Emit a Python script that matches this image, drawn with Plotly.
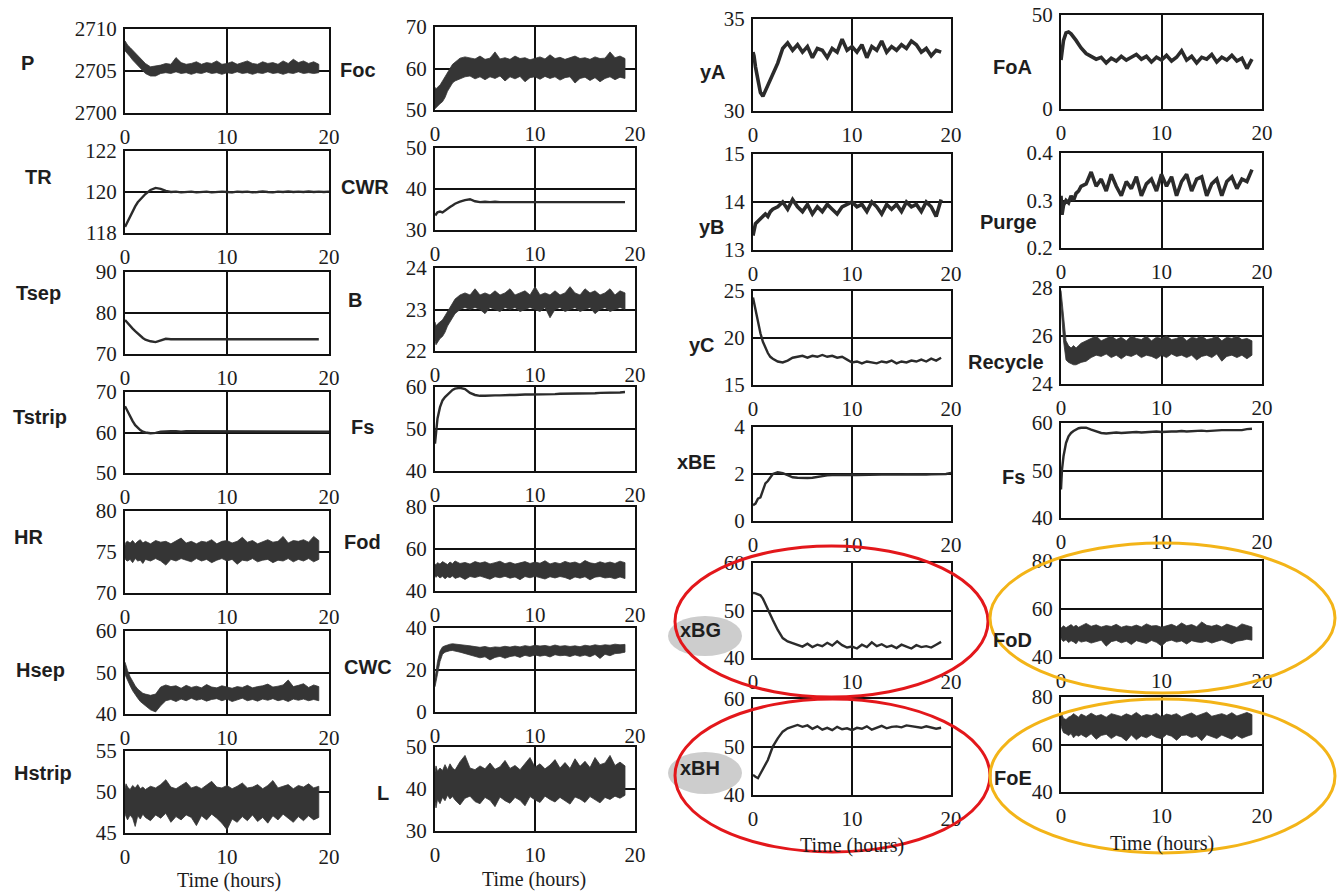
import plotly.graph_objects as go

W, H = 1337, 892

# ---------------- time grids (hours) ----------------
T = [0, 0.1, 0.25, 0.5, 0.75, 1.0, 1.25, 1.5, 1.75, 2.0,
     2.5, 3.0, 3.5, 4.0, 4.5, 5.0, 5.5, 6.0, 6.5, 7.0,
     7.5, 8.0, 8.5, 9.0, 9.5, 10.0, 10.5, 11.0, 11.5, 12.0,
     12.5, 13.0, 13.5, 14.0, 14.5, 15.0, 15.5, 16.0, 16.5, 17.0,
     17.5, 18.0, 18.5, 19.0]
T_FULL = [0, 0.1, 0.25, 0.5, 0.75, 1.0, 1.25, 1.5, 1.75, 2.0,
          2.5, 3.0, 3.5, 4.0, 4.5, 5.0, 5.5, 6.0, 6.5, 7.0,
          7.5, 8.0, 8.5, 9.0, 9.5, 10.0, 10.5, 11.0, 11.5, 12.0,
          12.5, 13.0, 13.5, 14.0, 14.5, 15.0, 15.5, 16.0, 16.5, 17.0,
          17.5, 18.0, 18.5, 19.0, 19.5, 20.0]

# ---------------- column 1 ----------------
P_HI = [2708.6, 2708.4, 2708.1, 2707.8, 2707.5, 2707.1, 2706.8, 2706.5, 2706.2, 2705.9,
        2705.5, 2705.6, 2705.7, 2705.9, 2705.8, 2706.6, 2706.0, 2705.8, 2705.9, 2706.1,
        2705.8, 2706.0, 2705.9, 2706.2, 2705.8, 2705.9, 2706.1, 2705.8, 2706.0, 2706.2,
        2705.9, 2705.8, 2706.1, 2705.9, 2706.0, 2705.8, 2706.2, 2705.9, 2706.4, 2706.0,
        2706.2, 2705.9, 2706.1, 2705.8]
P_LO = [2707.4, 2707.2, 2707.0, 2706.7, 2706.3, 2706.0, 2705.6, 2705.3, 2705.0, 2704.7,
        2704.4, 2704.4, 2704.7, 2704.8, 2704.7, 2704.9, 2704.7, 2704.8, 2704.6, 2704.8,
        2704.7, 2704.9, 2704.7, 2704.8, 2704.6, 2704.8, 2704.7, 2704.9, 2704.7, 2704.8,
        2704.6, 2704.8, 2704.7, 2704.9, 2704.7, 2704.8, 2704.6, 2704.8, 2704.7, 2704.9,
        2704.7, 2704.8, 2704.7, 2704.8]
TR = [118.3, 118.4, 118.6, 118.8, 119.05, 119.3, 119.5, 119.65, 119.8, 119.9,
      120.1, 120.2, 120.15, 120.05, 120.0, 120.02, 119.98, 120.0, 120.02, 119.98,
      120.0, 120.02, 119.98, 120.0, 120.02, 120.0, 119.98, 120.02, 120.0, 120.02,
      119.98, 120.0, 120.03, 120.0, 119.98, 120.02, 120.0, 120.03, 120.0, 120.02,
      120.0, 120.03, 120.0, 120.02, 120.0, 120.02]
TSEP = [78.3, 78.0, 77.5, 76.8, 76.2, 75.6, 75.0, 74.4, 73.9, 73.5,
        73.1, 72.9, 73.3, 73.7, 73.6, 73.6, 73.5, 73.6, 73.6, 73.5,
        73.6, 73.6, 73.5, 73.6, 73.6, 73.5, 73.6, 73.6, 73.5, 73.6,
        73.6, 73.5, 73.6, 73.6, 73.5, 73.6, 73.6, 73.5, 73.6, 73.6,
        73.5, 73.6, 73.5, 73.6]
TSTRIP = [66.5, 66.0, 65.0, 63.9, 62.8, 61.8, 61.1, 60.6, 60.2, 60.0,
          59.8, 59.9, 60.2, 60.3, 60.3, 60.3, 60.2, 60.3, 60.3, 60.3,
          60.2, 60.3, 60.3, 60.3, 60.2, 60.3, 60.3, 60.3, 60.2, 60.3,
          60.3, 60.3, 60.2, 60.3, 60.3, 60.3, 60.2, 60.3, 60.3, 60.3,
          60.3, 60.2, 60.3, 60.3, 60.3, 60.2]
HR_HI = [75.8, 76.2, 76.3, 76.1, 76.4, 76.0, 76.3, 76.5, 76.1, 76.3,
         76.0, 76.4, 76.2, 76.3, 76.0, 76.3, 76.7, 76.1, 76.3, 76.0,
         76.3, 76.2, 76.5, 76.0, 76.3, 76.4, 76.1, 76.3, 76.8, 76.2,
         76.4, 76.0, 76.3, 76.5, 76.2, 76.3, 76.9, 76.1, 76.4, 76.3,
         76.5, 76.2, 76.9, 76.4]
HR_LO = [74.2, 74.0, 73.9, 74.1, 73.7, 74.2, 73.9, 74.0, 73.6, 74.1,
         73.9, 74.2, 73.9, 73.4, 74.1, 73.9, 74.2, 74.0, 73.8, 74.2,
         73.9, 74.1, 73.7, 74.0, 74.2, 73.9, 74.1, 73.5, 74.0, 73.9,
         74.2, 73.8, 74.0, 74.1, 73.7, 74.0, 73.9, 74.2, 73.8, 74.1,
         73.9, 74.2, 73.8, 74.1]
HSEP_HI = [52.5, 51.5, 50.5, 49.0, 47.8, 46.8, 46.0, 45.5, 45.0, 44.8,
           44.5, 44.8, 46.5, 47.0, 46.6, 46.8, 46.2, 46.9, 46.4, 46.7,
           46.3, 47.1, 46.5, 46.3, 46.8, 46.5, 46.2, 46.6, 46.4, 46.9,
           46.3, 46.6, 46.8, 47.2, 46.5, 46.7, 47.0, 48.2, 46.6, 46.9,
           47.3, 46.4, 47.0, 46.6]
HSEP_LO = [49.5, 48.8, 48.0, 46.8, 45.6, 44.6, 43.8, 43.0, 42.5, 42.0,
           41.0, 40.5, 42.0, 43.2, 43.5, 43.0, 43.6, 43.2, 43.8, 43.3,
           43.6, 43.1, 43.5, 43.7, 43.2, 43.6, 43.0, 43.4, 43.8, 43.2,
           43.5, 43.1, 43.6, 43.3, 43.7, 43.2, 43.5, 43.0, 43.6, 43.3,
           43.6, 43.2, 43.5, 43.2]
HSTRIP_HI = [50.4, 51.0, 50.6, 50.3, 50.8, 50.5, 50.9, 50.4, 50.6, 50.3,
             50.7, 50.5, 50.9, 51.5, 50.6, 50.4, 50.8, 51.2, 50.5, 50.7,
             50.4, 50.9, 51.3, 50.6, 50.5, 50.8, 50.4, 50.7, 51.1, 50.5,
             50.6, 50.9, 50.4, 50.8, 51.4, 50.5, 50.7, 50.9, 50.4, 50.8,
             50.6, 51.0, 50.5, 50.7]
HSTRIP_LO = [47.4, 47.0, 46.6, 47.2, 46.8, 45.8, 47.1, 46.7, 47.3, 46.9,
             46.5, 47.2, 46.8, 47.4, 46.3, 47.0, 46.6, 47.2, 46.9, 45.9,
             47.1, 46.6, 47.3, 46.8, 46.2, 45.4, 46.7, 46.3, 47.0, 46.5,
             47.2, 46.4, 46.9, 46.2, 47.1, 46.6, 47.3, 46.8, 46.3, 47.0,
             46.5, 47.1, 46.6, 46.9]

# ---------------- column 2 ----------------
FOC_HI = [55.5, 55.0, 55.5, 56.0, 57.0, 58.0, 59.0, 60.0, 61.0, 61.5,
          62.5, 62.8, 62.5, 62.3, 63.0, 62.2, 62.5, 64.0, 62.3, 62.6,
          62.2, 63.0, 62.4, 62.6, 62.1, 62.5, 62.8, 62.3, 63.3, 62.4,
          62.7, 62.2, 62.6, 63.0, 62.4, 62.6, 62.2, 62.8, 62.4, 62.5,
          64.0, 62.6, 63.0, 62.4]
FOC_LO = [50.3, 50.5, 51.0, 51.5, 52.0, 53.0, 54.5, 55.5, 56.5, 57.0,
          57.5, 58.0, 58.2, 57.5, 58.0, 57.3, 58.0, 57.6, 58.2, 57.0,
          58.0, 57.5, 58.1, 56.8, 57.8, 58.0, 57.4, 58.1, 57.6, 58.0,
          57.2, 57.8, 58.0, 56.5, 57.6, 57.9, 57.1, 57.8, 56.8, 57.6,
          58.0, 57.3, 57.9, 57.6]
CWR = [34.0, 33.8, 34.3, 34.5, 34.3, 34.8, 35.2, 35.6, 36.0, 36.4,
       36.9, 37.3, 37.5, 37.0, 36.8, 36.9, 36.8, 36.9, 36.8, 36.8,
       36.9, 36.8, 36.8, 36.9, 36.8, 36.8, 36.9, 36.8, 36.8, 36.9,
       36.8, 36.8, 36.9, 36.8, 36.8, 36.9, 36.8, 36.8, 36.9, 36.8,
       36.8, 36.9, 36.8, 36.8]
B_HI = [22.7, 22.6, 22.65, 22.7, 22.75, 22.85, 22.95, 23.05, 23.15, 23.25,
        23.35, 23.4, 23.35, 23.5, 23.35, 23.4, 23.35, 23.45, 23.35, 23.4,
        23.5, 23.35, 23.4, 23.45, 23.35, 23.55, 23.35, 23.4, 23.35, 23.45,
        23.35, 23.4, 23.55, 23.4, 23.35, 23.5, 23.4, 23.45, 23.35, 23.4,
        23.5, 23.35, 23.45, 23.4]
B_LO = [22.25, 22.15, 22.2, 22.3, 22.35, 22.45, 22.6, 22.7, 22.8, 22.9,
        23.0, 23.05, 23.0, 23.05, 23.0, 22.9, 23.05, 23.0, 22.95, 23.05,
        23.0, 23.05, 22.95, 23.0, 23.05, 23.0, 22.95, 23.05, 22.8, 23.0,
        23.05, 22.95, 23.0, 23.05, 22.95, 23.0, 23.05, 22.9, 23.0, 23.05,
        22.95, 23.0, 23.05, 23.0]
FS_A = [46.5, 49.7, 52.5, 55.2, 56.8, 57.6, 58.2, 58.8, 59.3, 59.6,
        59.8, 59.5, 58.6, 58.1, 57.9, 57.9, 58.0, 58.0, 58.0, 58.1,
        58.1, 58.1, 58.2, 58.2, 58.2, 58.2, 58.3, 58.3, 58.3, 58.3,
        58.4, 58.4, 58.4, 58.4, 58.5, 58.5, 58.5, 58.5, 58.6, 58.6,
        58.6, 58.6, 58.7, 58.8]
FOD_HI = [53.0, 52.5, 53.5, 52.8, 54.0, 53.2, 52.6, 53.8, 53.0, 54.3,
          53.1, 53.6, 52.8, 54.0, 53.3, 53.9, 52.9, 53.5, 54.2, 53.0,
          53.7, 52.8, 53.4, 54.0, 53.1, 53.8, 53.2, 54.4, 52.9, 53.6,
          53.0, 54.1, 53.3, 53.8, 52.9, 54.5, 53.4, 53.0, 53.9, 53.2,
          53.8, 53.1, 54.2, 53.5]
FOD_LO = [47.0, 46.5, 47.3, 46.2, 47.0, 45.8, 46.8, 46.3, 47.2, 46.0,
          46.8, 45.5, 46.9, 46.4, 47.1, 46.2, 45.6, 46.8, 46.3, 47.0,
          46.1, 46.7, 45.4, 46.9, 46.3, 47.0, 46.5, 45.7, 46.8, 46.2,
          46.9, 46.4, 45.5, 46.7, 46.1, 46.8, 45.3, 46.6, 46.9, 46.2,
          46.5, 45.8, 46.7, 45.9]
CWC_HI = [16.0, 19.0, 24.0, 29.0, 31.0, 31.5, 32.0, 32.3, 32.5, 32.3,
          32.0, 31.8, 31.5, 31.0, 30.8, 31.2, 30.6, 31.0, 30.8, 31.3,
          30.9, 31.4, 31.0, 31.6, 31.2, 31.8, 31.4, 31.7, 31.2, 31.9,
          31.3, 31.6, 31.2, 31.5, 31.1, 31.8, 31.4, 32.0, 31.6, 32.0,
          31.8, 32.3, 32.0, 32.2]
CWC_LO = [12.0, 14.0, 18.0, 24.0, 27.5, 28.5, 29.0, 29.2, 29.3, 29.0,
          28.5, 28.0, 27.0, 26.5, 25.8, 26.3, 24.8, 26.0, 26.5, 25.6,
          26.4, 26.8, 26.0, 27.0, 26.4, 27.2, 26.6, 27.0, 26.2, 27.3,
          26.8, 27.0, 26.4, 27.2, 26.5, 27.1, 26.3, 27.4, 25.5, 27.5,
          26.8, 27.8, 28.0, 28.5]
L_HI = [44.0, 45.5, 44.2, 45.0, 44.4, 45.8, 44.6, 46.0, 45.0, 44.5,
        46.5, 48.0, 45.0, 44.6, 45.5, 44.8, 46.2, 44.7, 45.3, 46.8,
        44.9, 45.6, 44.6, 46.0, 47.5, 45.2, 46.0, 44.8, 45.7, 47.0,
        45.0, 46.3, 44.9, 47.2, 45.4, 46.6, 45.1, 47.5, 45.8, 46.2,
        48.0, 45.6, 46.4, 45.5]
L_LO = [37.0, 35.5, 37.5, 36.5, 38.0, 37.2, 38.5, 37.6, 38.2, 37.4,
        36.2, 37.8, 38.3, 37.0, 36.5, 38.0, 37.3, 35.8, 38.1, 37.2,
        36.6, 38.0, 37.3, 36.0, 38.2, 37.4, 36.8, 38.3, 37.5, 36.9,
        38.0, 37.2, 36.4, 38.1, 37.6, 36.8, 38.2, 37.4, 36.7, 38.0,
        37.5, 38.3, 37.8, 38.5]

# ---------------- column 3 ----------------
YA = [33.2, 33.0, 32.4, 31.6, 31.0, 30.8, 31.1, 31.3, 31.6, 31.9,
      32.6, 33.4, 33.7, 33.3, 33.6, 33.2, 33.5, 32.9, 33.4, 33.3,
      32.9, 33.4, 33.2, 33.9, 33.3, 33.5, 33.2, 33.6, 32.9, 33.5,
      33.3, 33.8, 33.2, 33.5, 33.3, 33.6, 33.4, 33.8, 33.6, 33.2,
      33.4, 33.0, 33.3, 33.2]
YB = [13.3, 13.4, 13.55, 13.6, 13.65, 13.7, 13.75, 13.7, 13.8, 13.85,
      13.9, 14.0, 13.85, 14.05, 13.9, 13.8, 13.95, 13.75, 13.9, 13.8,
      13.95, 13.85, 13.75, 13.9, 13.95, 14.0, 13.9, 13.95, 13.8, 14.0,
      13.9, 13.75, 13.95, 13.85, 13.95, 13.8, 14.0, 13.9, 13.95, 13.8,
      14.0, 13.9, 13.7, 14.05]
YC = [24.3, 23.8, 22.9, 21.7, 20.5, 19.6, 19.0, 18.4, 18.0, 17.8,
      17.5, 17.4, 17.6, 17.9, 18.0, 18.1, 17.9, 18.1, 18.0, 18.2,
      18.0, 18.1, 17.9, 18.0, 17.7, 17.4, 17.5, 17.3, 17.5, 17.4,
      17.3, 17.5, 17.4, 17.6, 17.3, 17.5, 17.4, 17.6, 17.5, 17.7,
      17.5, 17.8, 17.6, 17.9]
XBE = [0.67, 0.70, 0.74, 0.95, 1.0, 1.3, 1.6, 1.7, 1.85, 2.0,
       2.08, 2.04, 1.95, 1.86, 1.84, 1.82, 1.83, 1.84, 1.88, 1.92,
       1.94, 1.95, 1.96, 1.95, 1.96, 1.97, 1.96, 1.97, 1.97, 1.98,
       1.97, 1.98, 1.98, 1.97, 1.98, 1.98, 1.99, 1.98, 1.99, 1.99,
       1.98, 1.99, 2.0, 1.99, 2.0, 2.05]
XBG = [53.6, 53.7, 53.6, 53.4, 53.2, 52.5, 51.3, 50.1, 49.0, 48.0,
       45.9, 44.2, 43.5, 43.1, 42.8, 42.4, 43.0, 42.3, 42.8, 42.5,
       43.2, 42.6, 43.5, 42.7, 42.2, 42.4, 42.0, 42.8, 42.3, 43.3,
       42.5, 42.9, 42.3, 42.6, 42.1, 42.8, 42.4, 42.0, 42.7, 42.3,
       42.5, 42.2, 42.8, 43.4]
XBH = [44.2, 44.0, 43.8, 43.5, 44.5, 45.2, 46.2, 47.3, 48.7, 50.1,
       51.8, 53.2, 53.9, 54.3, 54.6, 54.2, 54.5, 53.8, 54.3, 53.6,
       54.0, 53.5, 54.2, 53.7, 53.9, 53.5, 54.0, 53.8, 54.3, 53.6,
       54.0, 54.4, 53.9, 54.2, 54.3, 54.1, 54.5, 54.3, 54.2, 54.0,
       54.3, 54.1, 53.8, 54.0]

# ---------------- column 4 ----------------
FOA = [26.0, 31.0, 36.5, 40.5, 41.0, 40.0, 38.5, 36.5, 34.5, 32.5,
       29.5, 28.0, 26.5, 27.5, 24.5, 27.0, 25.5, 28.0, 26.0, 27.5,
       29.0, 26.5, 28.0, 25.0, 27.5, 26.0, 28.5, 25.5, 27.5, 31.0,
       26.0, 28.0, 24.5, 27.5, 26.5, 29.0, 25.0, 27.5, 26.0, 28.5,
       25.5, 27.0, 21.5, 26.5]
PURGE = [0.31, 0.27, 0.29, 0.30, 0.295, 0.31, 0.30, 0.315, 0.32, 0.33,
         0.335, 0.36, 0.33, 0.345, 0.32, 0.355, 0.33, 0.31, 0.34, 0.325,
         0.35, 0.31, 0.335, 0.345, 0.32, 0.355, 0.33, 0.35, 0.31, 0.34,
         0.355, 0.32, 0.345, 0.35, 0.31, 0.335, 0.345, 0.31, 0.34, 0.35,
         0.325, 0.345, 0.34, 0.365]
REC_HI = [27.9, 27.5, 26.6, 25.8, 25.6, 25.5, 25.6, 25.5, 25.6, 25.7,
          25.8, 25.9, 26.0, 25.8, 25.9, 26.0, 25.85, 25.95, 25.8, 26.0,
          25.9, 25.85, 26.0, 25.8, 25.95, 25.9, 26.0, 25.85, 25.9, 26.0,
          25.8, 25.95, 25.9, 26.0, 25.85, 25.9, 26.0, 25.8, 25.95, 25.9,
          26.0, 25.85, 25.9, 25.8]
REC_LO = [27.3, 26.7, 25.8, 25.0, 24.9, 24.85, 24.8, 24.8, 24.85, 24.9,
          24.95, 25.1, 25.2, 25.15, 25.25, 25.1, 25.2, 25.05, 25.2, 25.15,
          25.25, 25.1, 25.2, 25.15, 25.05, 25.2, 25.1, 25.25, 25.15, 25.2,
          25.1, 25.2, 25.0, 25.15, 25.2, 25.1, 25.25, 24.95, 25.15, 25.2,
          25.1, 25.2, 25.05, 25.2]
FS_B = [46.0, 50.2, 53.0, 55.8, 57.2, 57.9, 58.3, 58.6, 58.9, 59.0,
        59.0, 58.6, 58.2, 57.9, 57.8, 57.9, 58.0, 57.9, 58.0, 58.0,
        58.1, 58.0, 58.1, 58.1, 58.2, 58.1, 58.2, 58.2, 58.2, 58.3,
        58.2, 58.3, 58.3, 58.4, 58.3, 58.4, 58.4, 58.5, 58.5, 58.5,
        58.6, 58.5, 58.7, 58.8]
FOD2_HI = [52.0, 52.5, 53.0, 52.2, 52.8, 53.5, 52.6, 53.2, 52.4, 53.0,
           54.0, 52.8, 53.4, 52.5, 53.1, 52.7, 53.6, 52.4, 53.0, 52.6,
           53.3, 52.5, 53.8, 52.9, 53.1, 52.4, 53.0, 53.6, 52.7, 54.2,
           53.0, 53.5, 52.6, 54.6, 53.2, 52.8, 53.4, 52.5, 53.7, 53.0,
           52.3, 53.8, 53.2, 52.5]
FOD2_LO = [48.0, 47.0, 46.5, 47.2, 46.0, 46.8, 46.3, 45.5, 46.9, 46.2,
           46.7, 45.8, 46.5, 47.0, 44.5, 46.4, 46.9, 45.9, 46.6, 45.2,
           46.8, 46.3, 45.6, 46.9, 46.1, 44.6, 46.5, 47.0, 46.2, 46.7,
           45.4, 46.8, 46.3, 46.0, 46.7, 45.8, 46.5, 47.1, 46.2, 45.5,
           46.6, 46.9, 47.4, 47.0]
FOE_HI = [73.0, 72.5, 71.0, 70.5, 71.5, 72.0, 73.0, 72.2, 71.5, 72.8,
          71.8, 73.2, 72.0, 72.6, 71.5, 73.0, 72.3, 71.8, 72.9, 72.1,
          73.5, 71.9, 72.6, 72.2, 73.1, 71.7, 72.8, 72.3, 73.0, 71.6,
          72.5, 73.3, 72.0, 72.7, 73.6, 71.9, 72.4, 73.0, 72.2, 73.4,
          72.0, 72.8, 73.5, 72.6]
FOE_LO = [68.0, 66.5, 65.0, 64.5, 63.8, 64.6, 62.8, 64.0, 63.5, 64.2,
          63.0, 64.5, 62.2, 63.8, 64.3, 62.5, 63.9, 63.2, 61.5, 64.0,
          62.0, 63.6, 62.8, 64.1, 63.0, 62.4, 64.2, 63.5, 61.8, 63.8,
          64.0, 62.9, 63.6, 61.6, 64.1, 63.3, 62.5, 64.0, 63.1, 62.2,
          63.8, 62.6, 63.5, 64.2]

# ---------------- panel table: (label, kind, t, series, y ticks, tick text) ----------------
PANELS = [
    ("P", "band", T, (P_HI, P_LO), [2700, 2705, 2710], ["2700", "2705", "2710"]),
    ("TR", "line", T_FULL, (TR,), [118, 120, 122], ["118", "120", "122"]),
    ("Tsep", "line", T, (TSEP,), [70, 80, 90], ["70", "80", "90"]),
    ("Tstrip", "line", T_FULL, (TSTRIP,), [50, 60, 70], ["50", "60", "70"]),
    ("HR", "band", T, (HR_HI, HR_LO), [70, 75, 80], ["70", "75", "80"]),
    ("Hsep", "band", T, (HSEP_HI, HSEP_LO), [40, 50, 60], ["40", "50", "60"]),
    ("Hstrip", "band", T, (HSTRIP_HI, HSTRIP_LO), [45, 50, 55], ["45", "50", "55"]),
    ("Foc", "band", T, (FOC_HI, FOC_LO), [50, 60, 70], ["50", "60", "70"]),
    ("CWR", "line", T, (CWR,), [30, 40, 50], ["30", "40", "50"]),
    ("B", "band", T, (B_HI, B_LO), [22, 23, 24], ["22", "23", "24"]),
    ("Fs", "line", T, (FS_A,), [40, 50, 60], ["40", "50", "60"]),
    ("Fod", "band", T, (FOD_HI, FOD_LO), [40, 60, 80], ["40", "60", "80"]),
    ("CWC", "band", T, (CWC_HI, CWC_LO), [0, 20, 40], ["0", "20", "40"]),
    ("L", "band", T, (L_HI, L_LO), [30, 40, 50], ["30", "40", "50"]),
    ("yA", "noisy", T, (YA,), [30, 35], ["30", "35"]),
    ("yB", "noisy", T, (YB,), [13, 14, 15], ["13", "14", "15"]),
    ("yC", "line", T, (YC,), [15, 20, 25], ["15", "20", "25"]),
    ("xBE", "line", T_FULL, (XBE,), [0, 2, 4], ["0", "2", "4"]),
    ("xBG", "line", T, (XBG,), [40, 50, 60], ["40", "50", "60"]),
    ("xBH", "line", T, (XBH,), [40, 50, 60], ["40", "50", "60"]),
    ("FoA", "noisy", T, (FOA,), [0, 50], ["0", "50"]),
    ("Purge", "noisy", T, (PURGE,), [0.2, 0.3, 0.4], ["0.2", "0.3", "0.4"]),
    ("Recycle", "band", T, (REC_HI, REC_LO), [24, 26, 28], ["24", "26", "28"]),
    ("Fs", "line", T, (FS_B,), [40, 50, 60], ["40", "50", "60"]),
    ("FoD", "band", T, (FOD2_HI, FOD2_LO), [40, 60, 80], ["40", "60", "80"]),
    ("FoE", "band", T, (FOE_HI, FOE_LO), [40, 60, 80], ["40", "60", "80"]),
]

# ---------------- layout geometry (pixels) ----------------
COL_X = [(125, 329), (435, 635), (753, 951), (1061, 1262)]
ROWS = [
    [(29, 113), (151, 233), (272, 354), (392, 473), (511, 593), (631, 714), (751, 833)],
    [(27, 110), (148, 230), (268, 351), (387, 471), (507, 591), (628, 712), (747, 831)],
    [(19, 111), (154, 250), (291, 385), (427, 521), (563, 658), (699, 795)],
    [(15, 109), (153, 248), (288, 384), (423, 518), (561, 657), (697, 792)],
]
LABEL_POS = [
    [(27, 63), (38, 177), (38, 293), (40, 417), (28, 537), (40, 670), (43, 773)],
    [(358, 70), (365, 187), (355, 300), (362, 427), (362, 542), (368, 667), (383, 793)],
    [(713, 72), (712, 227), (702, 345), (697, 462), (700, 630), (700, 768)],
    [(1012, 67), (1008, 222), (1006, 362), (1013, 477), (1012, 640), (1013, 778)],
]
TIME_POS = [(229, 880), (534, 879), (852, 845), (1162, 843)]

INK = "#2b2b2b"
FRAME = "#111111"
TICKFONT = dict(family="Liberation Serif, Times New Roman, serif", size=21, color="#1c1c1c")
LABFONT = dict(family="Liberation Sans, Arial, sans-serif", size=20, color="#1e1e1e")

fig = go.Figure()
layout = dict(width=W, height=H, margin=dict(l=0, r=0, t=0, b=0, pad=0), autosize=False,
              paper_bgcolor="white", plot_bgcolor="white", showlegend=False)
annotations = []

slots = []
for c, rows in enumerate(ROWS):
    for r in range(len(rows)):
        slots.append((c, r))

for i, (panel, (c, r)) in enumerate(zip(PANELS, slots), start=1):
    name, kind, t, series, yt, ytt = panel
    xa = "x" if i == 1 else f"x{i}"
    ya = "y" if i == 1 else f"y{i}"
    x0, x1 = COL_X[c]
    top, bot = ROWS[c][r]
    if kind == "band":
        hi, lo = series
        fig.add_trace(go.Scatter(
            x=list(t) + list(t)[::-1], y=list(hi) + list(lo)[::-1],
            fill="toself", fillcolor="#353535", mode="lines",
            line=dict(color="#353535", width=0.8), hoverinfo="skip",
            xaxis=xa, yaxis=ya))
    else:
        width = 3.6 if kind == "noisy" else 2.4
        fig.add_trace(go.Scatter(
            x=t, y=series[0], mode="lines",
            line=dict(color=INK, width=width), hoverinfo="skip",
            xaxis=xa, yaxis=ya))
    common = dict(showline=True, mirror=True, linecolor=FRAME, linewidth=2,
                  showgrid=True, gridcolor=FRAME, gridwidth=1.8, zeroline=False,
                  ticks="", tickfont=TICKFONT, fixedrange=True, automargin=False)
    layout["xaxis" if i == 1 else f"xaxis{i}"] = dict(
        domain=[x0 / W, x1 / W], range=[0, 20], anchor=ya,
        tickvals=[0, 10, 20], ticktext=["0", "10", "20"],
        ticklabelstandoff=4, **common)
    layout["yaxis" if i == 1 else f"yaxis{i}"] = dict(
        domain=[1 - bot / H, 1 - top / H], range=[yt[0], yt[-1]], anchor=xa,
        tickvals=yt, ticktext=ytt, ticklabelstandoff=2, **common)
    lx, ly = LABEL_POS[c][r]
    annotations.append(dict(text=f"<b>{name}</b>", x=lx / W, y=1 - ly / H,
                            xref="paper", yref="paper", showarrow=False,
                            xanchor="center", yanchor="middle", font=LABFONT))

for (tx, ty) in TIME_POS:
    annotations.append(dict(text="Time (hours)", x=tx / W, y=1 - ty / H,
                            xref="paper", yref="paper", showarrow=False,
                            xanchor="center", yanchor="middle",
                            font=dict(family="Liberation Serif, Times New Roman, serif",
                                      size=20, color="#1c1c1c")))

shapes = []
# grey scan smudges behind xBG / xBH labels
for (sx0, sy0, sx1, sy1) in [(668, 616, 742, 656), (668, 752, 742, 794)]:
    shapes.append(dict(type="circle", xref="paper", yref="paper",
                       x0=sx0 / W, x1=sx1 / W, y0=1 - sy1 / H, y1=1 - sy0 / H,
                       fillcolor="#cdcdcd", line=dict(width=0), layer="below"))
# highlight ellipses
for (ex0, ey0, ex1, ey1, col) in [(675, 546, 988, 697, "#e3171b"),
                                  (675, 699, 990, 852, "#e3171b"),
                                  (990, 543, 1335, 693, "#f3b418"),
                                  (990, 699, 1335, 853, "#f3b418")]:
    shapes.append(dict(type="circle", xref="paper", yref="paper",
                       x0=ex0 / W, x1=ex1 / W, y0=1 - ey1 / H, y1=1 - ey0 / H,
                       line=dict(color=col, width=3), fillcolor="rgba(0,0,0,0)",
                       layer="above"))

layout["annotations"] = annotations
layout["shapes"] = shapes
fig.update_layout(**layout)
fig.write_html("out.html",
               post_script="document.body.style.margin='0';document.body.style.overflow='hidden';")
